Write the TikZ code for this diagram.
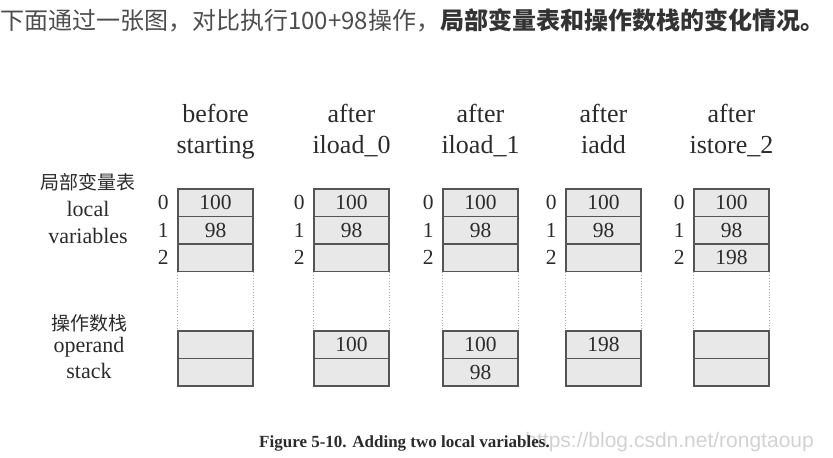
\documentclass[tikz,border=0pt]{standalone}
\usepackage{fontspec}
\setmainfont{Liberation Serif}
\newfontfamily\cjk{Noto Sans CJK SC}
\newfontfamily\wmfont{Liberation Sans}
\usepackage{xcolor}
\usetikzlibrary{positioning}
\definecolor{cellgray}{HTML}{E8E8E8}
\definecolor{boxline}{HTML}{555555}
\definecolor{ink}{HTML}{2B2B2B}
\definecolor{dotgray}{HTML}{AAAAAA}
\definecolor{topgray}{HTML}{4D4D4D}
\definecolor{topdark}{HTML}{333333}
\definecolor{wmgray}{HTML}{D2D2D2}

\begin{document}
\begin{tikzpicture}[x=1pt, y=-1pt,
    cell/.style={draw=boxline, fill=cellgray, line width=1.3pt, minimum width=75pt,
      minimum height=27.5pt, inner sep=0pt, text=ink, font=\fontsize{21.5}{21.5}\selectfont},
    idx/.style={inner sep=0pt, text=ink, font=\fontsize{21.5}{21.5}\selectfont},
    head/.style={anchor=base, inner sep=0pt, text=ink, font=\fontsize{26}{26}\selectfont},
    side/.style={anchor=base, inner sep=0pt, text=ink, font=\fontsize{22}{22}\selectfont},
    sidecn/.style={anchor=base, inner sep=0pt, text=ink, font=\cjk\fontsize{19}{19}\selectfont}]
      \useasboundingbox (0,0) rectangle (833,458);

      \node[anchor=base west, inner sep=0pt, text=topgray, font=\cjk\fontsize{24}{24}\selectfont] (intro) at (0,29)
        {下面通过一张图，对比执行100+98操作，{\color{topdark}\bfseries 局部变量表和操作数栈的变化情况。}};

      % row labels
      \node[sidecn] (lvcn) at (88,189) {局部变量表};
      \node[side] (lvlocal) at (88,216) {local};
      \node[side] (lvvars) at (88,243) {variables};
      \node[sidecn] (opcn) at (89,330) {操作数栈};
      \node[side] (opname) at (89,352) {operand};
      \node[side] (opstack) at (89,378) {stack};

      % one column per step
      \foreach \i/\cx/\ha/\hb/\va/\vb/\vc/\sa/\sb in {
          1/215.5/before/starting/100/98/{}/{}/{},
          2/351.5/after/iload\_0/100/98/{}/100/{},
          3/480.5/after/iload\_1/100/98/{}/100/98,
          4/603.5/after/iadd/100/98/{}/198/{},
          5/731.5/after/istore\_2/100/98/198/{}/{}} {
        \node[head] (ha\i) at (\cx,122.5) {\ha};
        \node[head] (hb\i) at (\cx,153) {\hb};
        \node[cell] (l\i-0) at (\cx,202.75) {\va};
        \node[cell] (l\i-1) at (\cx,230.25) {\vb};
        \node[cell] (l\i-2) at (\cx,257.75) {\vc};
        \node[cell] (s\i-0) at (\cx,344.75) {\sa};
        \node[cell] (s\i-1) at (\cx,372.25) {\sb};
        \draw[dotgray, dotted, line width=0.8pt] (l\i-2.south west) -- (s\i-0.north west);
        \draw[dotgray, dotted, line width=0.8pt] (l\i-2.south east) -- (s\i-0.north east);
        \node[idx, left=8.5pt of l\i-0] (n\i-0) {0};
        \node[idx, left=8.5pt of l\i-1] (n\i-1) {1};
        \node[idx, left=8.5pt of l\i-2] (n\i-2) {2};
      }

      \node[anchor=base east, inner sep=0pt, text=wmgray, font=\wmfont\fontsize{21}{21}\selectfont] (mark) at (814,447)
        {https://blog.csdn.net/rongtaoup};
      \node[anchor=base west, inner sep=0pt, text=ink, font=\bfseries\fontsize{17}{17}\selectfont] (caption) at (259,447)
        {Figure 5-10. Adding two local variables.};
\end{tikzpicture}
\end{document}
